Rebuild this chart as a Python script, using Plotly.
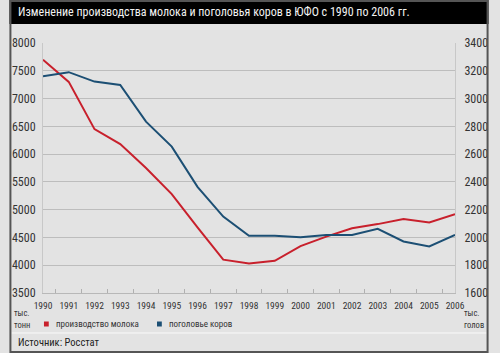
import plotly.graph_objects as go

years = [str(y) for y in range(1990, 2007)]
milk = [7700, 7300, 6450, 6180, 5750, 5280, 4680, 4100, 4030, 4080, 4345, 4515, 4665, 4740, 4830, 4770, 4920]
cows = [3160, 3190, 3122, 3098, 2834, 2654, 2364, 2150, 2012, 2012, 2002, 2018, 2017, 2062, 1971, 1935, 2019]

left_ticks = [3500, 4000, 4500, 5000, 5500, 6000, 6500, 7000, 7500, 8000]
right_ticks = [1600, 1800, 2000, 2200, 2400, 2600, 2800, 3000, 3200, 3400]

title = "Изменение производства молока и поголовья коров в ЮФО с 1990 по 2006 гг."
milk_name = "производство молока"
cows_name = "поголовье коров"
source = "Источник: Росстат"

W, H = 500, 353
L, R, T, B = 35, 35, 43, 60
FONT = "Liberation Sans Narrow, Arial Narrow, Roboto Condensed, sans-serif"
RED = "#c8202c"
BLUE = "#1c4f74"
BG = "#e3e3e3"


def px(x):
    return (x - L) / (W - L - R)


def py(y):
    return (H - B - y) / (H - T - B)


fig = go.Figure()
fig.add_trace(go.Scatter(x=years, y=milk, mode="lines", line=dict(color=RED, width=2),
                         name=milk_name, yaxis="y"))
fig.add_trace(go.Scatter(x=years, y=cows, mode="lines", line=dict(color=BLUE, width=2),
                         name=cows_name, yaxis="y2"))

shapes = [
    dict(type="rect", xref="paper", yref="paper", x0=px(0), x1=px(W), y0=py(24), y1=py(0),
         fillcolor="#000000", line=dict(width=0), layer="below"),
    dict(type="line", xref="paper", yref="paper", x0=px(2), x1=px(W - 2), y0=py(333), y1=py(333),
         line=dict(color="#fafafa", width=1)),
    dict(type="rect", xref="paper", yref="paper", x0=px(1), x1=px(W - 1), y0=py(H - 1), y1=py(1),
         line=dict(color="#555555", width=2)),
    dict(type="rect", xref="paper", yref="paper", x0=px(36), x1=px(41), y0=py(326.5), y1=py(321.5),
         fillcolor=RED, line=dict(width=0)),
    dict(type="rect", xref="paper", yref="paper", x0=px(154), x1=px(159), y0=py(326.5), y1=py(321.5),
         fillcolor=BLUE, line=dict(width=0)),
]


def ann(text, x, y, size, color="#333333", xanchor="left"):
    return dict(text=text, x=px(x), y=py(y), xref="paper", yref="paper", xanchor=xanchor,
                yanchor="middle", showarrow=False, font=dict(family=FONT, size=size, color=color))


annotations = [
    ann(title, 7, 12, 12, "#f2f2f2"),
    ann("тыс.", 3, 313, 8.5),
    ann("тонн", 3, 325, 8.5),
    ann("тыс.", 472, 313, 8.5),
    ann("голов", 472, 325, 8.5),
    ann(milk_name, 47, 324, 9),
    ann(cows_name, 164, 324, 9),
    ann(source, 7, 342, 10.5, "#222222"),
]

fig.update_layout(
    width=W, height=H,
    margin=dict(l=L, r=R, t=T, b=B, pad=0),
    paper_bgcolor=BG, plot_bgcolor=BG,
    showlegend=False,
    font=dict(family=FONT, color="#333333"),
    shapes=shapes,
    annotations=annotations,
    xaxis=dict(type="category", categoryorder="array", categoryarray=years,
               tickson="boundaries", ticks="inside", ticklen=4, tickcolor="#b0b0b0",
               showgrid=False, showline=True, linecolor="#b8b8b8", linewidth=1,
               tickfont=dict(size=9.5, color="#333333"), tickangle=0, zeroline=False,
               ticklabelstandoff=4),
    yaxis=dict(range=[3500, 8000], tickvals=left_ticks, showgrid=True, gridcolor="#bdbdbd",
               gridwidth=1, showline=True, linecolor="#c8c8c8", zeroline=False,
               tickfont=dict(size=12, color="#333333"), ticks="", ticklabelstandoff=4),
    yaxis2=dict(range=[1600, 3400], tickvals=right_ticks, overlaying="y", side="right",
                showgrid=False, showline=True, linecolor="#c8c8c8", zeroline=False,
                tickfont=dict(size=12, color="#333333"), ticks="", ticklabelstandoff=6),
)

fig.write_html("out.html")
